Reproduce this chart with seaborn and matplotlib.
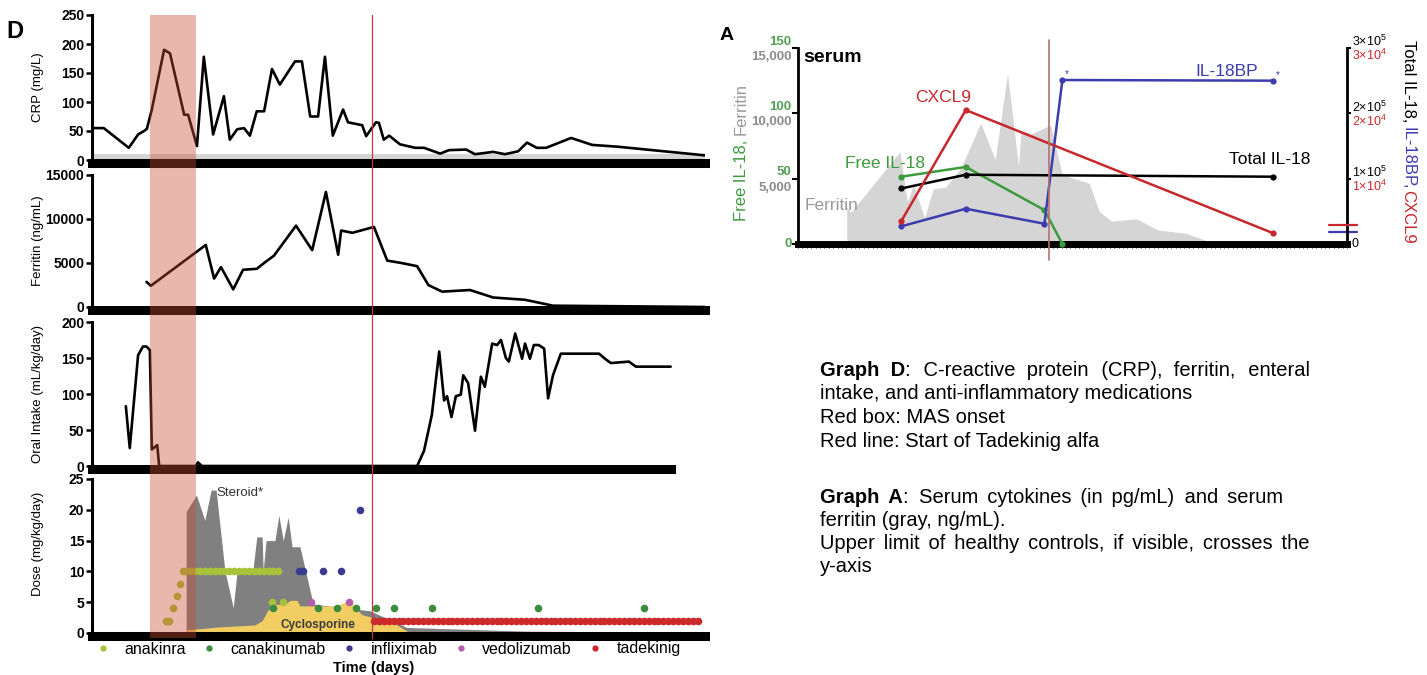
import numpy as np
import matplotlib
matplotlib.use("Agg")
import matplotlib.pyplot as plt
import matplotlib.transforms as mtrans
from matplotlib.lines import Line2D
from matplotlib.patches import Rectangle
import seaborn as sns

# ---------------- Graph D (x = day) ----------------
crp_day = [0, 2.4, 7.5, 9.4, 10.8, 11.2, 12.2, 14.7, 15.9, 18.8, 19.6, 21.4, 22.8, 24.7, 26.9, 28.1,
           29.6, 31.0, 32.2, 33.6, 35.1, 36.7, 38.3, 41.4, 42.8, 44.5, 46.1, 47.5, 49.1, 51.2, 52.2,
           55.1, 55.9, 57.9, 58.5, 59.5, 60.6, 62.8, 65.9, 67.7, 71.0, 72.8, 76.3, 78.1, 81.8, 84.2,
           86.9, 88.7, 90.7, 92.6, 97.7, 102.0, 107.1, 125]
crp_val = [55, 55, 21, 44, 51, 54, 87, 190, 184, 78, 78, 24, 178, 44, 110, 35,
           53, 55, 42, 84, 84, 157, 130, 170, 170, 75, 75, 178, 42, 87, 65,
           60, 41, 65, 64, 35, 42, 27, 21, 21, 11, 17, 18, 10, 14, 10,
           15, 30, 21, 21, 38, 26, 23, 8]
CRP_ULN = 10

fer_day = [11.1, 12.0, 23.2, 24.9, 26.3, 28.8, 30.8, 33.6, 35.3, 37.1, 41.6, 44.9, 47.7, 50.2,
           50.8, 53.1, 57.5, 60.2, 63.0, 66.3, 68.6, 71.4, 77.1, 81.8, 88.3, 94.0, 125]
fer_val = [2860, 2410, 7050, 3230, 4530, 2000, 4230, 4340, 5090, 5830, 9245, 6460, 13070, 5940,
           8690, 8430, 9100, 5270, 5010, 4640, 2490, 1745, 1930, 1080, 820, 150, 0]

oral_day = [6.9, 7.7, 9.4, 10.4, 11.1, 11.8, 12.2, 13.3, 13.7, 21.2, 21.6, 22.4, 66.3, 67.7, 69.3,
            70.8, 71.8, 72.4, 73.3, 74.2, 75.2, 75.7, 76.7, 78.1, 79.3, 80.1, 81.6, 82.6, 83.4,
            84.4, 85.0, 86.3, 87.7, 88.3, 89.3, 90.1, 91.1, 92.2, 93.0, 94.0, 95.6, 103.4, 104.6,
            105.8, 109.5, 110.9, 118.0]
oral_val = [83, 25, 154, 166, 166, 161, 23, 29, 0, 0, 5, 0, 0, 21, 71,
            159, 91, 97, 68, 97, 99, 126, 115, 49, 124, 110, 170, 168, 175,
            150, 145, 184, 149, 170, 149, 168, 168, 163, 94, 126, 156, 156, 149,
            143, 145, 138, 138]

steroid_day = [19.2, 19.2, 21.3, 23.0, 24.3, 25.3, 27.1, 28.8, 29.6, 32.8, 33.6, 34.7, 34.9, 35.5,
               37.3, 38.1, 39.0, 40.0, 40.8, 42.4, 45.1, 56.7, 64.2, 88.7, 124]
steroid_val = [0, 19.7, 22.4, 18.3, 23.2, 23.2, 10.1, 4.1, 10.1, 10.1, 15.6, 15.6, 10.1, 15.0,
               15.0, 19.1, 15.0, 18.8, 14.0, 14.0, 4.7, 3.6, 0.9, 0.3, 0.1]

cyclo_day = [19.2, 26.1, 33.2, 34.7, 35.7, 36.9, 39.4, 40.4, 41.8, 42.4, 49.6, 52.0, 53.0, 55.0,
             57.3, 61.8, 64.8]
cyclo_val = [0.5, 1.0, 1.3, 2.0, 3.5, 4.6, 4.7, 5.3, 5.3, 4.4, 4.4, 5.1, 4.8, 3.0, 2.5, 1.5, 0]

anakinra_day = [15.0, 15.8, 16.6, 17.4, 18.0, 18.6, 19, 20, 21, 22, 23, 24, 25, 26, 27, 28, 29, 30,
                31, 32, 33, 34, 35, 36, 37, 38, 36.7, 39.0]
anakinra_dose = [2, 2, 4, 6, 8, 10, 10, 10, 10, 10, 10, 10, 10, 10, 10, 10, 10, 10,
                 10, 10, 10, 10, 10, 10, 10, 10, 5, 5]
canakinumab_day = [36.9, 46.1, 50.0, 53.8, 57.9, 61.6, 69.3, 90.9, 112.6]
canakinumab_dose = [4, 4, 4, 4, 4, 4, 4, 4, 4]
infliximab_day = [42.2, 43.0, 47.1, 50.8, 54.6]
infliximab_dose = [10, 10, 10, 10, 20]
vedolizumab_day = [44.7, 52.4]
vedolizumab_dose = [5, 5]
tadekinig_day = [57.5, 58.5, 59.5, 60.5, 61.5, 62.5, 63.5, 64.5, 65.5, 66.5, 67.5, 68.5, 69.5,
                 70.5, 71.5, 72.5, 73.5, 74.5, 75.5, 76.5, 77.5, 78.5, 79.5, 80.5, 81.5, 82.5,
                 83.5, 84.5, 85.5, 86.5, 87.5, 88.5, 89.5, 90.5, 91.5, 92.5, 93.5, 94.5, 95.5,
                 96.5, 97.5, 98.5, 99.5, 100.5, 101.5, 102.5, 103.5, 104.5, 105.5, 106.5, 107.5,
                 108.5, 109.5, 110.5, 111.5, 112.5, 113.5, 114.5, 115.5, 116.5, 117.5, 118.5,
                 119.5, 120.5, 121.5, 122.5, 123.5]
tadekinig_dose = [2] * len(tadekinig_day)

drug_names = ["anakinra", "canakinumab", "infliximab", "vedolizumab", "tadekinig"]
drug_colors = ["#a9c23a", "#3d8b3d", "#3a3a92", "#b35ea8", "#cc2a2a"]

MAS_START, MAS_END = 11.8, 21.2
TADEKINIG_START = 57.1

# ---------------- Graph A ----------------
a_free_day = [23.5, 38.2, 56.1, 60.2]
a_free = [51.5, 59, 26, 0]
a_total_day = [23.5, 38.2, 108.2]
a_total = [85000, 106000, 103000]
a_bp_day = [23.5, 38.2, 56.1, 60.2, 108.2]
a_bp = [27000, 54000, 31000, 251000, 250000]
a_cxcl9_day = [23.5, 38.2, 108.2]
a_cxcl9 = [3500, 20500, 1650]
IL18BP_ULN = 18400
CXCL9_ULN = 2900

GREEN, BLUE, RED = "#3e9a3e", "#3c3cae", "#c8282d"

caption = [
    ("Graph D", ": C-reactive protein (CRP), ferritin, enteral", 370, 1310),
    ("", "intake, and anti-inflammatory medications", 393, None),
    ("", "Red box: MAS onset", 417, None),
    ("", "Red line: Start of Tadekinig alfa", 441, None),
    ("Graph A", ": Serum cytokines (in pg/mL) and serum", 497, 1283),
    ("", "ferritin (gray, ng/mL).", 520, None),
    ("", "Upper limit of healthy controls, if visible, crosses the", 543, 1310),
    ("", "y-axis", 566, None),
]

sns.set_theme(style="ticks", rc={"axes.edgecolor": "black", "xtick.color": "black",
                                 "ytick.color": "black", "text.color": "black",
                                 "axes.labelcolor": "black"})
plt.rcParams["font.family"] = ["Liberation Sans", "DejaVu Sans"]
plt.rcParams["mathtext.default"] = "regular"

W, H = 1427, 675
fig = plt.figure(figsize=(W / 100, H / 100), dpi=100)


def box(l, t, r, b):
    return [l / W, 1 - b / H, (r - l) / W, (b - t) / H]


def fx(x):
    return x / W


def fy(y):
    return 1 - y / H


def style_d(ax, top, step, label, xend=125):
    ax.set_xlim(0, 125)
    ax.set_ylim(0, top)
    ax.set_yticks(np.arange(0, top + 1, step))
    ax.set_xticks([])
    ax.spines["top"].set_visible(False)
    ax.spines["right"].set_visible(False)
    ax.spines["left"].set_linewidth(2.2)
    ax.spines["bottom"].set_linewidth(6.5)
    ax.spines["bottom"].set_position(("outward", 2))
    ax.spines["bottom"].set_bounds(0, xend)
    ax.tick_params(axis="y", length=4, width=1.8, labelsize=10, pad=1.5)
    for lab in ax.get_yticklabels():
        lab.set_fontweight("bold")
    ax.set_ylabel(label, fontsize=9.5)
    ax.yaxis.set_label_coords(-0.078, 0.5)
    ax.set_facecolor("none")


line_kw = dict(color="black", lw=1.9, sort=False, estimator=None)

ax_crp = fig.add_axes(box(92, 15, 705, 160))
ax_crp.axhspan(0, CRP_ULN, color="#d5d5d5", lw=0, zorder=0)
sns.lineplot(x=crp_day, y=crp_val, ax=ax_crp, **line_kw)
style_d(ax_crp, 250, 50, "CRP (mg/L)")

ax_fer = fig.add_axes(box(92, 175, 705, 307))
sns.lineplot(x=fer_day, y=fer_val, ax=ax_fer, **line_kw)
style_d(ax_fer, 15000, 5000, "Ferritin (ng/mL)")

ax_oral = fig.add_axes(box(92, 322, 705, 466))
sns.lineplot(x=oral_day, y=oral_val, ax=ax_oral, **line_kw)
style_d(ax_oral, 200, 50, "Oral Intake (mL/kg/day)", xend=118)

ax_dose = fig.add_axes(box(92, 479, 705, 633))
ax_dose.fill_between(steroid_day, steroid_val, color="#808080", lw=0)
ax_dose.fill_between(cyclo_day, cyclo_val, color="#f1cd62", lw=0)
drug_days = [anakinra_day, canakinumab_day, infliximab_day, vedolizumab_day, tadekinig_day]
drug_doses = [anakinra_dose, canakinumab_dose, infliximab_dose, vedolizumab_dose, tadekinig_dose]
for d, v, c in zip(drug_days, drug_doses, drug_colors):
    sns.scatterplot(x=d, y=v, ax=ax_dose, color=c, s=30, linewidth=0, zorder=3)
style_d(ax_dose, 25, 5, "Dose (mg/kg/day)")
ax_dose.yaxis.set_label_coords(-0.078, 0.58)
ax_dose.text(25.3, 22.7, "Steroid*", fontsize=9.5, va="center", color="#333333")
ax_dose.text(46, 1.3, "Cyclosporine", fontsize=8.5, fontweight="bold", ha="center", va="center",
             color="#3c3c3c", zorder=4)

handles = [Line2D([], [], ls="", marker="o", ms=4.5, mew=0, color=c) for c in drug_colors]
fig.legend(handles, drug_names, loc="center", bbox_to_anchor=(fx(388), fy(649)), ncol=5,
           frameon=False, fontsize=11.5, handlelength=1.0, handletextpad=0.85, columnspacing=0.95,
           borderpad=0, borderaxespad=0)
fig.text(fx(374), fy(668), "Time (days)", ha="center", va="center", fontweight="bold", fontsize=10.5)
fig.text(fx(15), fy(32), "D", ha="center", va="center", fontweight="bold", fontsize=17)

tD = mtrans.blended_transform_factory(ax_crp.transData, fig.transFigure)
fig.add_artist(Rectangle((MAS_START, fy(638)), MAS_END - MAS_START, fy(15) - fy(638), transform=tD,
                         facecolor=(0.8, 0.3, 0.2), alpha=0.4, lw=0, zorder=5))
fig.add_artist(Line2D([TADEKINIG_START] * 2, [fy(638), fy(15)], transform=tD, color="#cc3340",
                      lw=0.9, zorder=5))

# ---------------- Graph A axes ----------------
axA = fig.add_axes(box(798, 48, 1347, 244))
axA.fill_between(fer_day, fer_val, color="#d5d5d5", lw=0)
axA.set_xlim(0, 125)
axA.set_ylim(0, 15000)
axA.set_yticks([0, 5000, 10000, 15000])
axA.set_yticklabels([])
axA.set_xticks(np.arange(0, 126, 1))
axA.set_xticklabels([])
axA.tick_params(axis="x", length=3, width=0.8, color="#222222")
axA.tick_params(axis="y", length=4, width=1.5)
axA.spines["top"].set_visible(False)
axA.spines["right"].set_visible(False)
axA.spines["left"].set_linewidth(2.0)
axA.spines["bottom"].set_linewidth(5)


def twin(ymax):
    t = axA.twinx()
    for s in t.spines.values():
        s.set_visible(False)
    t.set_yticks([])
    return t


axF = twin(150)
axR = twin(3e5)
axC = twin(3e4)

mk = dict(lw=1.8, marker="o", ms=4.5, mew=0, sort=False, estimator=None, clip_on=False)
sns.lineplot(x=a_free_day, y=a_free, ax=axF, color=GREEN, **mk)
sns.lineplot(x=a_total_day, y=a_total, ax=axR, color="black", **mk)
sns.lineplot(x=a_bp_day, y=a_bp, ax=axR, color=BLUE, **mk)
sns.lineplot(x=a_cxcl9_day, y=a_cxcl9, ax=axC, color=RED, **mk)
for t, ymax in ((axF, 150), (axR, 3e5), (axC, 3e4)):
    t.set_ylim(0, ymax)
    t.set_xlim(0, 125)
    t.set_ylabel("")

axR.spines["right"].set_visible(True)
axR.spines["right"].set_linewidth(2.0)
axR.set_yticks([0, 1e5, 2e5, 3e5])
axR.set_yticklabels([])
axR.tick_params(axis="y", length=3, width=1.5)

for x, y in ((60.2, 251000), (108.2, 250000)):
    axR.annotate("*", xy=(x, y), xytext=(2, 2), textcoords="offset points", color=BLUE, fontsize=7)

tR = mtrans.blended_transform_factory(axR.transAxes, axR.transData)
axR.add_line(Line2D([0.967, 1.018], [IL18BP_ULN] * 2, transform=tR, color=BLUE, lw=1.6, clip_on=False))
tC = mtrans.blended_transform_factory(axC.transAxes, axC.transData)
axC.add_line(Line2D([0.967, 1.018], [CXCL9_ULN] * 2, transform=tC, color=RED, lw=1.6, clip_on=False))

ann = dict(xycoords=("axes fraction", "data"), textcoords="offset points", va="center",
           fontsize=9.5, fontweight="bold", annotation_clip=False)
for v, g, f in zip([150, 100, 50], ["150", "100", "50"], ["15,000", "10,000", "5,000"]):
    axF.annotate(g, xy=(0, v), xytext=(-4.5, 4.5), ha="right", color="#55a055", **ann)
    axF.annotate(f, xy=(0, v), xytext=(-4.5, -6.5), ha="right", color="#8c8c8c", **ann)
axF.annotate("0", xy=(0, 0), xytext=(-4.5, 0), ha="right", color="#55a055", **ann)

ann_r = dict(xycoords=("axes fraction", "data"), textcoords="offset points", va="center",
             fontsize=9, annotation_clip=False, ha="left")
for v, b, r in zip([3e5, 2e5, 1e5], ["3×10$^5$", "2×10$^5$", "1×10$^5$"],
                   ["3×10$^4$", "2×10$^4$", "1×10$^4$"]):
    axR.annotate(b, xy=(1, v), xytext=(3.5, 4.5), color="black", **ann_r)
    axR.annotate(r, xy=(1, v), xytext=(3.5, -5.5), color=RED, **ann_r)
axR.annotate("0", xy=(1, 0), xytext=(3.5, 0), color="black", **ann_r)

tA = mtrans.blended_transform_factory(axA.transData, fig.transFigure)
fig.add_artist(Line2D([TADEKINIG_START] * 2, [fy(260), fy(40)], transform=tA, color="#b47070",
                      lw=1.2, zorder=5))

fig.text(fx(727), fy(35), "A", ha="center", va="center", fontweight="bold", fontsize=14)
fig.text(fx(803), fy(57), "serum", ha="left", va="center", fontweight="bold", fontsize=14)
fig.text(fx(943), fy(98), "CXCL9", ha="center", va="center", color=RED, fontsize=12.5)
fig.text(fx(1227), fy(72), "IL-18BP", ha="center", va="center", color=BLUE, fontsize=12.5)
fig.text(fx(1270), fy(160), "Total IL-18", ha="center", va="center", color="black", fontsize=12.5)
fig.text(fx(885), fy(163), "Free IL-18", ha="center", va="center", color=GREEN, fontsize=12.5)
fig.text(fx(832), fy(205), "Ferritin", ha="center", va="center", color="#9a9a9a", fontsize=12.5)

l1 = fig.text(fx(741), fy(221), "Free IL-18, ", rotation=90, ha="center", va="bottom",
              color=GREEN, fontsize=12)
axA.annotate("Ferritin", xy=(0.5, 1), xycoords=l1, rotation=90, ha="center", va="bottom",
             color="#9a9a9a", fontsize=12, annotation_clip=False)
r1 = fig.text(fx(1408), fy(40), "Total IL-18, ", rotation=-90, ha="center", va="top",
              color="black", fontsize=12)
r2 = axA.annotate("IL-18BP,", xy=(0.5, 0), xycoords=r1, rotation=-90, ha="center", va="top",
                  color=BLUE, fontsize=12, annotation_clip=False)
axA.annotate("CXCL9", xy=(0.5, 0), xycoords=r2, rotation=-90, ha="center", va="top",
             color=RED, fontsize=12, annotation_clip=False)

# ---------------- caption (justified lines padded with spaces) ----------------
renderer = fig.canvas.get_renderer()
CAP_SIZE = 14.5


def measure(s, weight="normal"):
    t = fig.text(0, 0, s, fontsize=CAP_SIZE, fontweight=weight)
    w = t.get_window_extent(renderer).width
    t.remove()
    return w


SPACE = measure("a a") - measure("aa")
HAIR = measure("a\u200aa") - measure("aa")


def padded(words, gap, carry):
    if not words:
        return "", carry
    out = words[0]
    for w in words[1:]:
        want = gap + carry
        n = max(1, int(want // SPACE))
        rest = want - n * SPACE
        h = int(round(rest / HAIR)) if HAIR > 0.3 else 0
        carry = want - n * SPACE - h * max(HAIR, 0)
        out += " " * n + "\u200a" * h + w
    return out, carry


for bold, rest, y, x_end in caption:
    base = fy(y + 6)
    if x_end is None:
        fig.text(fx(820), base, rest, fontsize=CAP_SIZE, va="baseline")
        continue
    bwords = bold.split()
    rwords = rest.split()
    natural = sum(measure(w, "bold") for w in bwords) + sum(measure(w) for w in rwords)
    gaps = max(len(bwords) - 1, 0) + len(rwords) - 1
    gap = (x_end - 820 - natural) / gaps
    bstr, carry = padded(bwords, gap, 0.0)
    rstr, _ = padded(rwords, gap, carry)
    x0 = 820
    if bstr:
        fig.text(fx(x0), base, bstr, fontsize=CAP_SIZE, fontweight="bold", va="baseline")
        x0 += measure(bstr, "bold")
    fig.text(fx(x0), base, rstr, fontsize=CAP_SIZE, va="baseline")

fig.savefig("out.png", dpi=100)
